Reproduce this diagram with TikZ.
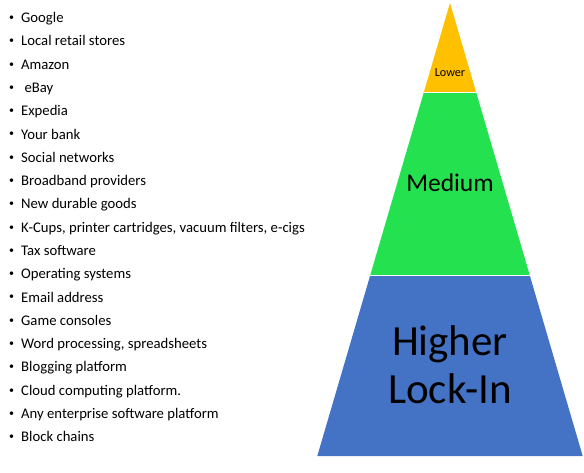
\documentclass[tikz,border=0pt]{standalone}
\usepackage{fontspec}
\setmainfont{Carlito}
\usetikzlibrary{calc}

\definecolor{lockorange}{HTML}{FFC000}
\definecolor{lockgreen}{HTML}{23E14F}
\definecolor{lockblue}{HTML}{4472C4}

\tikzstyle{lock lower}=[fill=lockorange]
\tikzstyle{lock medium}=[fill=lockgreen]
\tikzstyle{lock higher}=[fill=lockblue]
\tikzstyle{item}=[anchor=base west, inner sep=0pt, font=\fontsize{14.7}{17}\selectfont]
\tikzstyle{dot}=[anchor=center, inner sep=0pt, font=\fontsize{10}{12}\selectfont]
\tikzstyle{level}=[anchor=base, inner sep=0pt]

\begin{document}
\begin{tikzpicture}[x=1pt, y=-1pt]
	\useasboundingbox (0,0) rectangle (584,472);

	% Corners of the pyramid
	\coordinate (apex) at (450,3);
	\coordinate (bl) at (317.3,456);
	\coordinate (br) at (582.7,456);
	\coordinate (l1) at ($(apex)!0.198!(bl)$);
	\coordinate (r1) at ($(apex)!0.198!(br)$);
	\coordinate (l2) at ($(apex)!0.601!(bl)$);
	\coordinate (r2) at ($(apex)!0.601!(br)$);

	% Bands of the pyramid
	\fill[lock lower] (apex) -- (r1) -- (l1) -- cycle;
	\fill[lock medium] (l1) -- (r1) -- (r2) -- (l2) -- cycle;
	\fill[lock higher] (l2) -- (r2) -- (br) -- (bl) -- cycle;
	\draw[white, line width=1pt] (l1) -- (r1) (l2) -- (r2);

	\node[level, font=\fontsize{12.2}{14}\selectfont] (lower) at (450,76.7) {Lower};
	\node[level, font=\fontsize{25.5}{30}\selectfont] (medium) at (450,191.7) {Medium};
	\node[level, font=\fontsize{43}{48}\selectfont] (higher) at (450,355) {Higher};
	\node[level, font=\fontsize{43}{48}\selectfont] (lockin) at (450,403.3) {Lock-In};

	% Bulleted list
	\foreach \name [count=\i] in {Google, Local retail stores, Amazon, {\ eBay}, Expedia,
		Your bank, Social networks, Broadband providers, New durable goods,
		{K-Cups, printer cartridges, vacuum filters, e-cigs}, Tax software,
		Operating systems, Email address, Game consoles,
		{Word processing, spreadsheets}, Blogging platform,
		Cloud computing platform., Any enterprise software platform, Block chains}{
		\node[dot] (dot-\i) at (11.5, {18.3+23.28*(\i-1)}) {•};
		\node[item] (item-\i) at (21, {22.7+23.28*(\i-1)}) {\name};
	}
\end{tikzpicture}
\end{document}
